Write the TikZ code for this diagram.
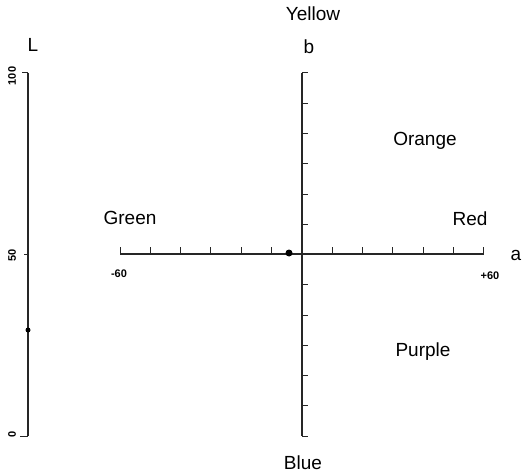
\documentclass[tikz,border=0pt]{standalone}
\usepackage{fontspec}
\setmainfont{Liberation Sans}
\usetikzlibrary{calc}
\begin{document}
\begin{tikzpicture}[x=1pt,y=-1pt,
  lbl/.style={font=\fontsize{19}{21}\selectfont, inner sep=0pt},
  num/.style={font=\fontsize{11}{12}\selectfont\bfseries, inner sep=0pt},
  axis/.style={line width=1.3pt, black!85},
  tk/.style={line width=1pt, black!85},
  dotm/.style={circle, fill=black, inner sep=0pt}]
\useasboundingbox (0,0) rectangle (522,476);
% coordinates
\coordinate (aL) at (120,254);
\coordinate (aR) at (484,254);
\coordinate (bT) at (302,73);
\coordinate (bB) at (302,436);
\coordinate (LT) at (28,73);
\coordinate (LB) at (28,436);
% a axis
\draw[axis] (aL) -- (aR);
\foreach \i in {0,...,12} {
  \draw[tk] ($(aL)+(\i*30.33,0)$) -- ++(0,-7);
}
% b axis
\draw[axis] (bT) -- (bB);
\foreach \i in {0,...,12} {
  \draw[tk] ($(bT)+(0,\i*30.25)$) -- ++(6,0);
}
% L axis
\draw[axis] (LT) -- (LB);
\draw[tk] (LT) -- ++(-6,0);
\draw[tk] (28,254.5) -- ++(-4,0);
\draw[tk] (LB) -- ++(-8,0);
% dots
\node[dotm, minimum size=5pt] (dL) at (28,330) {};
\node[dotm, minimum size=7pt] (dA) at (289,253) {};
% labels
\node[lbl] (yellow) at (313,14) {Yellow};
\node[lbl] (b) at (309,47) {b};
\node[lbl] (orange) at (425,141) {Orange};
\node[lbl] (green) at (130,218) {Green};
\node[lbl] (red) at (470,219) {Red};
\node[lbl] (a) at (516,255) {a};
\node[lbl] (purple) at (423,352) {Purple};
\node[lbl] (blue) at (303,463) {Blue};
\node[lbl] (L) at (33,45) {L};
\node[num] (m60) at (119,274) {-60};
\node[num] (p60) at (490,276) {+60};
\node[num, rotate=90] (l100) at (12,76) {100};
\node[num, rotate=90] (l50) at (12,255) {50};
\node[num, rotate=90] (l0) at (12,434) {0};
\end{tikzpicture}
\end{document}
